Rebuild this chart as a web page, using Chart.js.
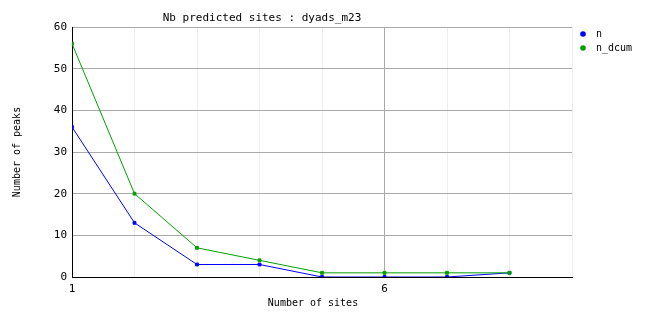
<!DOCTYPE html>
<html><head><meta charset="utf-8">
<script src="https://cdn.jsdelivr.net/npm/chart.js@4/dist/chart.umd.min.js"></script>
<style>html,body{margin:0;padding:0;background:#fff}#wrap{width:662px;height:328px}</style>
</head><body><div id="wrap"><canvas id="c" width="662" height="328"></canvas></div>
<script>
const chartTitle = "Nb predicted sites : dyads_m23";
const xTitle = "Number of sites";
const yTitle = "Number of peaks";
const sites = [1, 2, 3, 4, 5, 6, 7, 8];
const nValues = [36, 13, 3, 3, 0, 0, 0, 1];
const nDcumValues = [56, 20, 7, 4, 1, 1, 1, 1];
const xTickLabels = [1, 6];
const yTicks = [0, 10, 20, 30, 40, 50, 60];
const seriesNames = ["n", "n_dcum"];
const seriesColors = ["#0000ff", "#00a000"];
const FONT = "'DejaVu Sans Mono', monospace";

const overlay = {
  id: 'overlay',
  afterDraw(chart) {
    const ctx = chart.ctx, a = chart.chartArea;
    ctx.save();
    ctx.fillStyle = '#000';
    ctx.font = "11px " + FONT;
    ctx.textAlign = 'center';
    ctx.textBaseline = 'middle';
    ctx.fillText(chartTitle, a.left + 190, 18);
    ctx.font = "10px " + FONT;
    ctx.fillText(xTitle, a.left + 241, 303);
    // legend
    ctx.textAlign = 'left';
    chart.data.datasets.forEach((ds, i) => {
      const y = 34 + i * 14;
      ctx.fillStyle = ds.borderColor;
      ctx.beginPath();
      ctx.arc(a.right + 11, y, 2.8, 0, Math.PI * 2);
      ctx.fill();
      ctx.fillStyle = '#000';
      ctx.fillText(ds.label, a.right + 24, y);
    });
    ctx.restore();
  }
};

new Chart(document.getElementById('c'), {
  type: 'line',
  data: {
    datasets: [
      { label: seriesNames[0], data: sites.map((s, i) => ({x: s, y: nValues[i]})),
        borderColor: seriesColors[0], backgroundColor: seriesColors[0], borderWidth: 1,
        pointStyle: 'rect', pointRadius: 2, tension: 0, order: 2 },
      { label: seriesNames[1], data: sites.map((s, i) => ({x: s, y: nDcumValues[i]})),
        borderColor: seriesColors[1], backgroundColor: seriesColors[1], borderWidth: 1,
        pointStyle: 'rect', pointRadius: 2, tension: 0, order: 1 }
    ]
  },
  options: {
    responsive: false,
    animation: false,
    devicePixelRatio: 1,
    layout: { padding: { left: 0, top: 27, right: 90, bottom: 0 } },
    plugins: { legend: { display: false }, title: { display: false }, tooltip: { enabled: false } },
    scales: {
      x: {
        type: 'linear', min: 1, max: 9,
        afterFit: s => { s.height = 51; },
        border: { color: '#000', width: 1 },
        grid: { drawTicks: false, color: c => c.tick && c.tick.value === 6 ? '#aaaaaa' : '#eeeeee' },
        ticks: { stepSize: 1, padding: 6, font: { family: FONT, size: 11 }, color: '#000',
                 maxRotation: 0, autoSkip: false,
                 callback: v => xTickLabels.includes(v) ? String(v) : '' },
        title: { display: false }
      },
      y: {
        min: 0, max: 60,
        afterFit: s => { s.width = 72; },
        border: { color: '#000', width: 1 },
        grid: { drawTicks: false, color: '#aaaaaa' },
        afterBuildTicks: s => { s.ticks = yTicks.map(v => ({value: v})); },
        ticks: { padding: 5, font: { family: FONT, size: 11 }, color: '#000' },
        title: { display: true, text: yTitle, font: { family: FONT, size: 10 }, color: '#000', padding: { top: 11 } }
      }
    }
  },
  plugins: [overlay]
});
</script></body></html>
